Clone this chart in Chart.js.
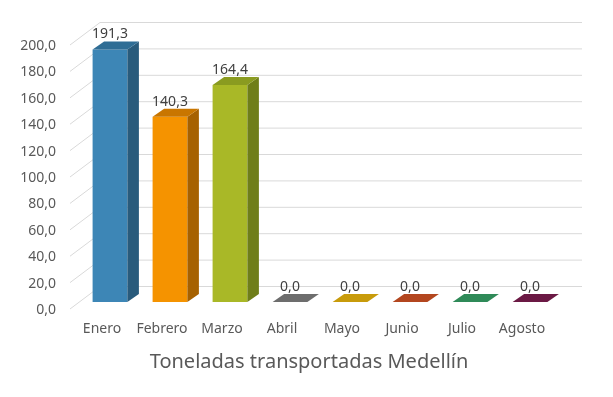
<!DOCTYPE html>
<html>
<head>
<meta charset="utf-8">
<script src="https://cdn.jsdelivr.net/npm/chart.js@4.4.0/dist/chart.umd.min.js"></script>
<style>
    html, body { margin: 0; padding: 0; background: #ffffff; }
    #wrap { width: 613px; height: 397px; }
</style>
</head>
<body>
<div id="wrap"><canvas id="chart" width="613" height="397"></canvas></div>
<script>
// Data
const months = ['Enero', 'Febrero', 'Marzo', 'Abril', 'Mayo', 'Junio', 'Julio', 'Agosto'];
const tons = [191.3, 140.3, 164.4, 0, 0, 0, 0, 0];
const yMin = 0;
const yMax = 200;
const yStep = 20;
const chartTitle = 'Toneladas transportadas Medellín';

// Bar colours: front face, side face, top face
const frontColors = ['#3d86b6', '#f59300', '#a9b827', '#6d6d6d', '#c89b0b', '#b3461f', '#2f8a58', '#6b1944'];
const sideColors  = ['#295b7c', '#a66100', '#6f7e19', '#6d6d6d', '#c89b0b', '#b3461f', '#2f8a58', '#6b1944'];
const topColors   = ['#2f6d95', '#c97600', '#8a9b20', '#6d6d6d', '#c89b0b', '#b3461f', '#2f8a58', '#6b1944'];

const textColor = '#595959';
const fmt = (v) => Number(v).toFixed(1).replace('.', ',');

// depth of the 3D look
const depth = { dx: 11.5, dy: 8 };
const wallBack = { dx: 20, dy: 15.5 };   // back wall offset from the bar fronts
const wallFront = { dx: -10, dy: -7 };   // where the side-wall grid lines start

// Back wall grid lines, drawn before the bars
const wallPlugin = {
    id: 'wall3d',
    beforeDatasetsDraw(chart) {
        const { ctx, chartArea, scales } = chart;
        const y = scales.y;
        ctx.save();
        ctx.strokeStyle = '#d9d9d9';
        ctx.lineWidth = 1;
        for (let v = yMin; v <= yMax; v += yStep) {
            const py = y.getPixelForValue(v);
            ctx.beginPath();
            ctx.moveTo(chartArea.left + wallFront.dx, py - wallFront.dy);
            ctx.lineTo(chartArea.left + wallBack.dx, py - wallBack.dy);
            ctx.lineTo(chartArea.right + 22, py - wallBack.dy);
            ctx.stroke();
        }
        ctx.restore();
    }
};

// Side and top faces plus the value labels and the title
const barsPlugin = {
    id: 'bars3d',
    afterDatasetsDraw(chart) {
        const { ctx } = chart;
        const meta = chart.getDatasetMeta(0);
        ctx.save();
        meta.data.forEach((bar, i) => {
            const p = bar.getProps(['x', 'y', 'base', 'width'], true);
            const l = p.x - p.width / 2;
            const r = p.x + p.width / 2;
            const top = p.y;
            const base = p.base;

            // side face
            if (base - top > 0.5) {
                ctx.fillStyle = sideColors[i];
                ctx.beginPath();
                ctx.moveTo(r, top);
                ctx.lineTo(r + depth.dx, top - depth.dy);
                ctx.lineTo(r + depth.dx, base - depth.dy);
                ctx.lineTo(r, base);
                ctx.closePath();
                ctx.fill();
            }

            // top face
            ctx.fillStyle = topColors[i];
            ctx.beginPath();
            ctx.moveTo(l, top);
            ctx.lineTo(l + depth.dx, top - depth.dy);
            ctx.lineTo(r + depth.dx, top - depth.dy);
            ctx.lineTo(r, top);
            ctx.closePath();
            ctx.fill();

            // value label
            ctx.fillStyle = '#404040';
            ctx.font = '14px "Noto Sans"';
            ctx.textAlign = 'center';
            ctx.textBaseline = 'middle';
            ctx.fillText(fmt(tons[i]), p.x, top - 15);
        });

        // chart title under the axis
        ctx.fillStyle = textColor;
        ctx.font = '20px "Noto Sans"';
        ctx.textAlign = 'center';
        ctx.textBaseline = 'middle';
        ctx.fillText(chartTitle, 309, 362);
        ctx.restore();
    }
};

const ctx = document.getElementById('chart').getContext('2d');
const chart = new Chart(ctx, {
    type: 'bar',
    data: {
        labels: months,
        datasets: [{
            data: tons,
            backgroundColor: frontColors,
            borderWidth: 0,
            categoryPercentage: 1,
            barPercentage: 0.58
        }]
    },
    options: {
        responsive: false,
        animation: false,
        layout: {
            padding: { top: 38, right: 53, left: 0, bottom: 0 }
        },
        plugins: {
            legend: { display: false },
            tooltip: { enabled: false },
            title: { display: false }
        },
        scales: {
            x: {
                grid: { display: false },
                border: { display: false },
                ticks: {
                    color: textColor,
                    font: { family: 'Noto Sans', size: 14 },
                    padding: 11,
                    labelOffset: -8,
                    maxRotation: 0
                },
                afterFit(scale) { scale.height = 95; }
            },
            y: {
                min: yMin,
                max: yMax,
                grid: { display: false },
                border: { display: false },
                ticks: {
                    stepSize: yStep,
                    color: textColor,
                    font: { family: 'Noto Sans', size: 14 },
                    padding: 16,
                    labelOffset: 8,
                    callback: (v) => fmt(v)
                },
                afterFit(scale) { scale.width = 80; }
            }
        }
    },
    plugins: [wallPlugin, barsPlugin]
});
</script>
</body>
</html>
